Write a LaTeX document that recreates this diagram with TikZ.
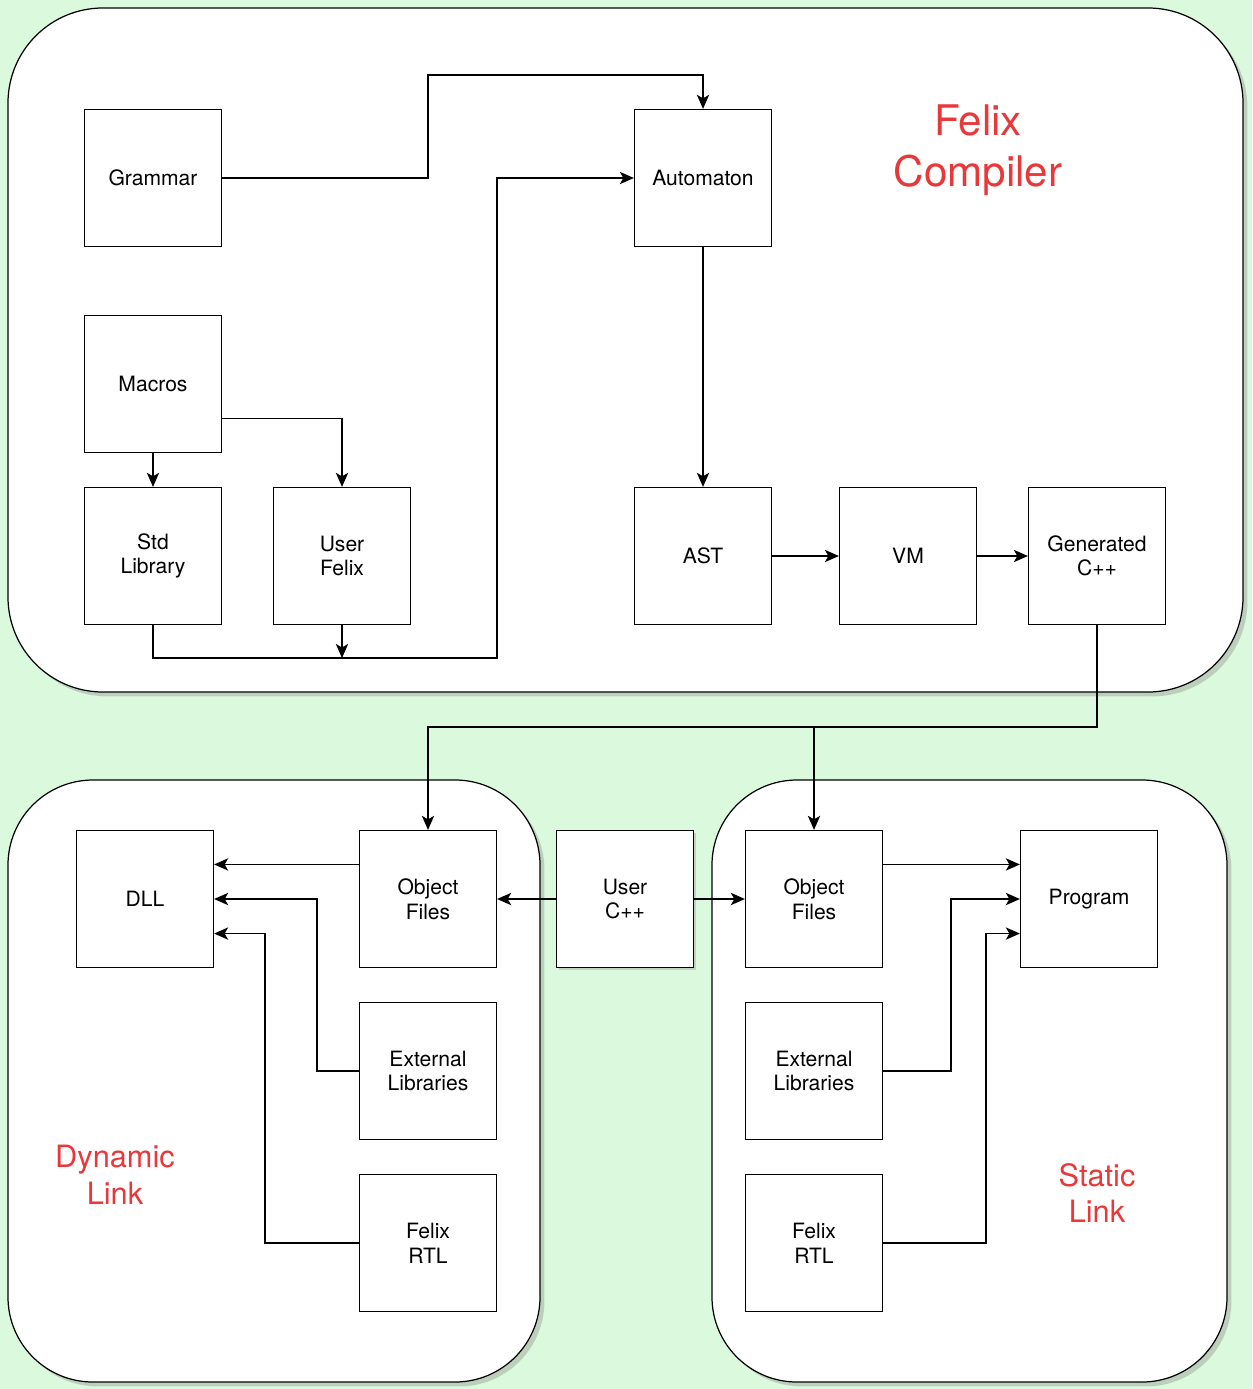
\documentclass[tikz,border=0pt]{standalone}
\usepackage{fontspec}
\setmainfont{TeX Gyre Heros}
\usetikzlibrary{arrows.meta,shadows,calc}
\definecolor{bggreen}{HTML}{DBFADD}
\definecolor{titlered}{HTML}{E8383A}

\begin{document}
\begin{tikzpicture}[x=0.02cm, y=-0.02cm,
    block/.style={draw, fill=white, line width=0.7pt, minimum width=2.74cm, minimum height=2.74cm,
      inner sep=0pt, align=center, font=\fontsize{12}{14}\selectfont},
    group/.style={draw, fill=white, line width=0.7pt, rounded corners=1.9cm,
      drop shadow={shadow xshift=2.5pt, shadow yshift=-2.5pt, opacity=0.35, fill=gray}},
    link/.style={line width=0.8pt, -{Stealth[length=8pt, width=7pt, inset=2pt]}},
    heading/.style={text=titlered, align=center}]
    % background and groups
    \fill[bggreen] (0,0) rectangle (1252,1389);
    \draw[group] (8,8) rectangle (1243,692);
    \draw[group, rounded corners=1.7cm] (8,780) rectangle (540,1382);
    \draw[group, rounded corners=1.7cm] (712,780) rectangle (1227,1382);
    % compiler
    \node[block] (gram) at (153,178) {Grammar};
    \node[block] (auto) at (703,178) {Automaton};
    \node[block] (mac) at (153,384) {Macros};
    \node[block] (std) at (153,556) {Std\\Library};
    \node[block] (ufx) at (342,556) {User\\Felix};
    \node[block] (ast) at (703,556) {AST};
    \node[block] (vm) at (908,556) {VM};
    \node[block] (gen) at (1097,556) {Generated\\C++};
    \node[heading, font=\fontsize{24}{29}\selectfont] (ttlC) at (978,150) {Felix\\Compiler};
    % linking
    \node[block] (dll) at (145,899) {DLL};
    \node[block] (objL) at (428,899) {Object\\Files};
    \node[block, drop shadow={shadow xshift=1.5pt, shadow yshift=-1.5pt, opacity=0.3, fill=gray}] (ucpp) at (625,899) {User\\C++};
    \node[block] (objR) at (814,899) {Object\\Files};
    \node[block] (prog) at (1089,899) {Program};
    \node[block] (extL) at (428,1071) {External\\Libraries};
    \node[block] (rtlL) at (428,1243) {Felix\\RTL};
    \node[block] (extR) at (814,1071) {External\\Libraries};
    \node[block] (rtlR) at (814,1243) {Felix\\RTL};
    \node[heading, font=\fontsize{17.5}{21}\selectfont] (ttlD) at (115,1175) {Dynamic\\Link};
    \node[heading, font=\fontsize{17.5}{21}\selectfont] (ttlS) at (1097,1193) {Static\\Link};
    \coordinate (top) at (428,75);
    \coordinate (bus) at (497,658);
    \coordinate (genbus) at (1097,727);
    \coordinate (busR) at (814,727);
    \coordinate (tapL) at (317,899);
    \coordinate (rtlbendL) at (265,1243);
    \coordinate (tapR) at (951,899);
    \coordinate (rtlbendR) at (986,1243);
    % compiler connectors
    \draw[link] (gram.east) -| (top) -| (auto.north);
    \draw[link] (std.south) |- (bus) |- (auto.west);
    \draw[link] (ufx.south) -- (ufx.south |- bus);
    \draw[link] (mac.south) -- (std.north);
    \draw[link] ($(mac.east)!0.5!(mac.south east)$) -| (ufx.north);
    \draw[link] (auto.south) -- (ast.north);
    \draw[link] (ast.east) -- (vm.west);
    \draw[link] (vm.east) -- (gen.west);
    \draw[link] (gen.south) -- (genbus) -| (objL.north);
    \draw[link] (busR) -- (objR.north);
    % dynamic link connectors
    \draw[link] (ucpp.west) -- (objL.east);
    \draw[link] ($(objL.west)!0.5!(objL.north west)$) -- ($(dll.east)!0.5!(dll.north east)$);
    \draw[link] (extL.west) -| (tapL) -- (dll.east);
    \draw[link] (rtlL.west) -- (rtlbendL) |- ($(dll.east)!0.5!(dll.south east)$);
    % static link connectors
    \draw[link] (ucpp.east) -- (objR.west);
    \draw[link] ($(objR.east)!0.5!(objR.north east)$) -- ($(prog.west)!0.5!(prog.north west)$);
    \draw[link] (extR.east) -| (tapR) -- (prog.west);
    \draw[link] (rtlR.east) -- (rtlbendR) |- ($(prog.west)!0.5!(prog.south west)$);
\end{tikzpicture}
\end{document}
